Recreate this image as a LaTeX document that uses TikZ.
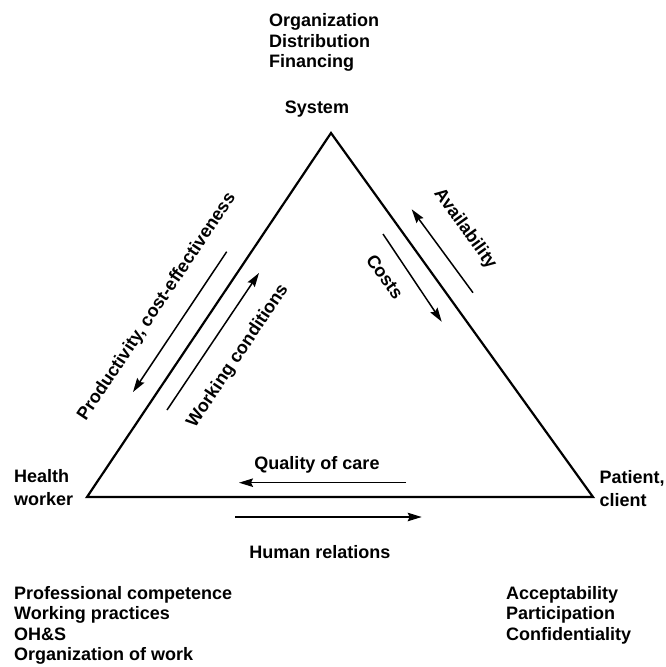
\documentclass[tikz,border=0pt]{standalone}
\usepackage{fontspec}
\setmainfont{Liberation Sans}
\usetikzlibrary{arrows.meta}
\begin{document}
\begin{tikzpicture}[x=1pt,y=-1pt,
  lbl/.style={font=\bfseries\fontsize{18}{20.5}\selectfont, inner sep=0pt},
  lst/.style={lbl, align=left, anchor=north west},
  side/.style={line width=2.2pt, line join=miter},
  flow/.style={line width=1.5pt, -{Stealth[length=14pt,width=8.5pt,inset=2pt]}}]
\useasboundingbox (0,0) rectangle (665,667);
% vertices
\coordinate (S) at (331,133);
\coordinate (H) at (87,497);
\coordinate (P) at (593,497);
\draw[side] (S) -- (H) -- (P) -- cycle;
% vertex labels
\node[lbl, anchor=base] (sys) at (317,113) {System};
\node[lst] (sysl) at (269,13.4) {Organization\\Distribution\\Financing};
\node[lst] (hw) at (14,469) {Health\\[2.8pt]worker};
\node[lst] (pc) at (599.5,470) {Patient,\\[2.8pt]client};
\node[lst] (hwl) at (14,586) {Professional competence\\Working practices\\OH\&S\\Organization of work};
\node[lst] (pcl) at (506,586) {Acceptability\\Participation\\Confidentiality};
% left side arrows
\coordinate (pa1) at (226.7,251.7);
\coordinate (pa2) at (133,392);
\coordinate (wa1) at (167,410);
\coordinate (wa2) at (259,273);
\draw[flow] (pa1) -- (pa2);
\draw[flow] (wa1) -- (wa2);
\node[lbl, rotate=56.2] (prod) at (157,307) {Productivity, cost-effectiveness};
\node[lbl, rotate=56.2] (work) at (238,356) {Working conditions};
% right side arrows
\coordinate (aa1) at (473,292.7);
\coordinate (aa2) at (411.7,209.3);
\coordinate (ca1) at (383,234);
\coordinate (ca2) at (441.7,321.7);
\draw[flow] (aa1) -- (aa2);
\draw[flow] (ca1) -- (ca2);
\node[lbl, rotate=-54.3] (avail) at (465,229) {Availability};
\node[lbl, rotate=-54.3] (costs) at (385,277) {Costs};
% bottom arrows
\coordinate (qa1) at (406,482.7);
\coordinate (qa2) at (239,482.7);
\coordinate (ha1) at (235,517);
\coordinate (ha2) at (421.7,517);
\draw[flow] (qa1) -- (qa2);
\draw[flow] (ha1) -- (ha2);
\node[lbl, anchor=base] (qual) at (317,469.4) {Quality of care};
\node[lbl, anchor=base] (hum) at (320,558) {Human relations};
\end{tikzpicture}
\end{document}
